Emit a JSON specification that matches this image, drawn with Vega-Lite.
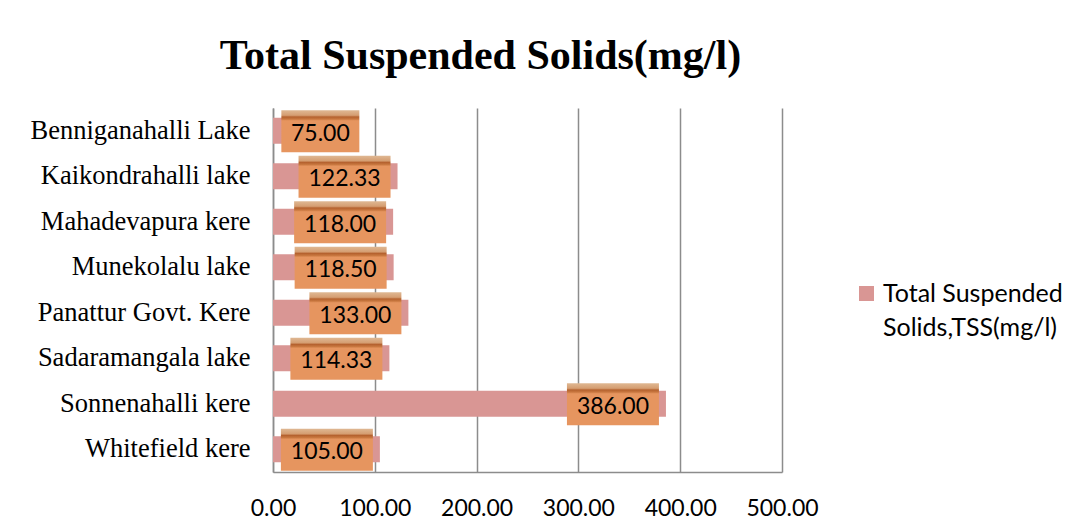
{
  "$schema": "https://vega.github.io/schema/vega-lite/v6.json",
  "width": 509,
  "height": 364,
  "autosize": "none",
  "padding": {"left": 273, "top": 108, "right": 299, "bottom": 60},
  "background": "white",
  "title": {
    "text": "Total Suspended Solids(mg/l)",
    "font": "Liberation Serif",
    "fontSize": 42,
    "fontWeight": "bold",
    "color": "black",
    "anchor": "middle",
    "frame": "group",
    "dx": -47,
    "offset": -3,
    "baseline": "alphabetic"
  },
  "data": {
    "values": [
      {"lake": "Benniganahalli Lake", "value": 75.00},
      {"lake": "Kaikondrahalli lake", "value": 122.33},
      {"lake": "Mahadevapura kere", "value": 118.00},
      {"lake": "Munekolalu lake", "value": 118.50},
      {"lake": "Panattur Govt. Kere", "value": 133.00},
      {"lake": "Sadaramangala lake", "value": 114.33},
      {"lake": "Sonnenahalli kere", "value": 386.00},
      {"lake": "Whitefield kere", "value": 105.00}
    ]
  },
  "encoding": {
    "y": {
      "field": "lake",
      "type": "nominal",
      "sort": null,
      "scale": {"paddingInner": 0.43, "paddingOuter": 0.215},
      "axis": {
        "title": null,
        "labelFont": "Liberation Serif",
        "labelFontSize": 26.5,
        "labelColor": "black",
        "labelPadding": 23,
        "labelLimit": 300,
        "ticks": false,
        "domainColor": "#8c8c8c",
        "domainWidth": 1.5
      }
    }
  },
  "layer": [
    {
      "mark": {"type": "bar"},
      "encoding": {
        "x": {
          "field": "value",
          "type": "quantitative",
          "scale": {"domain": [0, 500], "nice": false},
          "axis": {
            "title": null,
            "values": [0, 100, 200, 300, 400, 500],
            "format": ".2f",
            "labelFont": "Lato",
            "labelFontSize": 23,
            "labelColor": "black",
            "labelPadding": 25,
            "labelBaseline": "top",
            "labelOverlap": false,
            "labelFlush": false,
            "ticks": false,
            "grid": true,
            "gridColor": "#8c8c8c",
            "gridWidth": 1.5,
            "domainColor": "#8c8c8c",
            "domainWidth": 1.5
          }
        },
        "color": {
          "datum": "Total Suspended Solids,TSS(mg/l)",
          "scale": {"range": ["#D99694"]},
          "legend": {
            "orient": "none",
            "legendX": 581,
            "legendY": 173,
            "title": null,
            "symbolType": "square",
            "symbolSize": 225,
            "symbolStrokeWidth": 0,
            "labelFont": "Lato",
            "labelFontSize": 25,
            "labelColor": "black",
            "labelOffset": 4,
            "labelLimit": 300,
            "labelExpr": "['Total Suspended', 'Solids,TSS(mg/l)']"
          }
        }
      }
    },
    {
      "transform": [{"filter": "datum.value >= 100"}],
      "mark": {
        "type": "bar",
        "size": 42,
        "yOffset": 0.5,
        "xOffset": -99,
        "x2Offset": -7,
        "fill": {
          "gradient": "linear",
          "x1": 0, "y1": 0, "x2": 0, "y2": 1,
          "stops": [
            {"offset": 0, "color": "#DFB893"},
            {"offset": 0.12, "color": "#D59E72"},
            {"offset": 0.16, "color": "#B5622F"},
            {"offset": 0.21, "color": "#C8773F"},
            {"offset": 0.25, "color": "#E6955F"},
            {"offset": 1, "color": "#E6955F"}
          ]
        }
      },
      "encoding": {
        "x": {"field": "value", "type": "quantitative"},
        "x2": {"field": "value"}
      }
    },
    {
      "transform": [{"filter": "datum.value < 100"}],
      "mark": {
        "type": "bar",
        "size": 42,
        "yOffset": 0.5,
        "xOffset": -68,
        "x2Offset": 10,
        "fill": {
          "gradient": "linear",
          "x1": 0, "y1": 0, "x2": 0, "y2": 1,
          "stops": [
            {"offset": 0, "color": "#DFB893"},
            {"offset": 0.12, "color": "#D59E72"},
            {"offset": 0.16, "color": "#B5622F"},
            {"offset": 0.21, "color": "#C8773F"},
            {"offset": 0.25, "color": "#E6955F"},
            {"offset": 1, "color": "#E6955F"}
          ]
        }
      },
      "encoding": {
        "x": {"field": "value", "type": "quantitative"},
        "x2": {"field": "value"}
      }
    },
    {
      "transform": [{"filter": "datum.value >= 100"}],
      "mark": {"type": "text", "font": "Lato", "fontSize": 23, "color": "black", "align": "center", "baseline": "middle", "dx": -53, "dy": 3},
      "encoding": {
        "x": {"field": "value", "type": "quantitative"},
        "text": {"field": "value", "type": "quantitative", "format": ".2f"}
      }
    },
    {
      "transform": [{"filter": "datum.value < 100"}],
      "mark": {"type": "text", "font": "Lato", "fontSize": 23, "color": "black", "align": "center", "baseline": "middle", "dx": -29, "dy": 3},
      "encoding": {
        "x": {"field": "value", "type": "quantitative"},
        "text": {"field": "value", "type": "quantitative", "format": ".2f"}
      }
    }
  ],
  "config": {
    "view": {"stroke": null},
    "style": {"guide-label": {"lineHeight": 34}}
  }
}
